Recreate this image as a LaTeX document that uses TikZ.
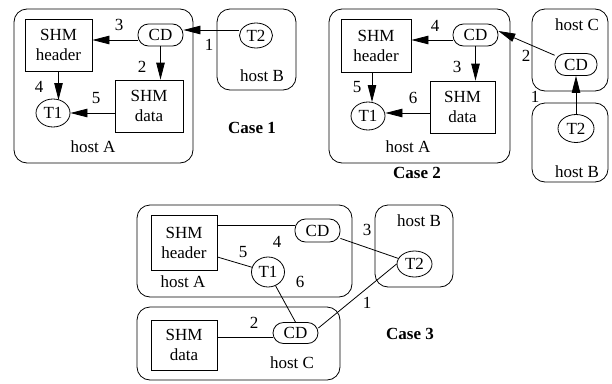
\documentclass[tikz,border=0pt]{standalone}
\usepackage{fontspec}
\setmainfont{Liberation Serif}
\usetikzlibrary{arrows.meta,shapes.geometric}
\begin{document}
\begin{tikzpicture}[x=1pt,y=-1pt,
  every node/.style={font=\fontsize{17}{20}\selectfont},
  host/.style={draw,line width=0.8pt,rounded corners=13pt,inner sep=0pt},
  shm/.style={draw,line width=0.8pt,inner sep=0pt,align=center},
  cdn/.style={draw,line width=0.8pt,rounded corners=10.5pt,inner sep=0pt,minimum width=45pt,minimum height=22pt},
  task/.style={draw,ellipse,line width=0.8pt,inner sep=0pt,minimum width=34pt,minimum height=28pt},
  arr/.style={line width=0.8pt,-{Triangle[length=17pt,width=8.5pt]}},
  lnk/.style={line width=0.8pt},
  lbl/.style={inner sep=0pt},
  casel/.style={inner sep=0pt,font=\fontsize{17}{20}\selectfont\bfseries}]
\useasboundingbox (0,0) rectangle (612,383);

% ---------------- Case 1 ----------------
\node[host,minimum width=179pt,minimum height=154pt] (hA1) at (103.5,86) {};
\node[host,minimum width=79pt,minimum height=81pt] (hB1) at (256.5,49.5) {};
\node[shm,minimum width=67pt,minimum height=52pt] (hd1) at (58.5,45) {SHM\\header};
\node[cdn] (cd1) at (160.5,35) {CD};
\node[task,minimum width=33pt,minimum height=25pt] (t21) at (256,35.5) {T2};
\node[shm,minimum width=68pt,minimum height=52pt] (dt1) at (149,106) {SHM\\data};
\node[task] (t11) at (53,113) {T1};
\node[lbl] (lA1) at (93,147) {host A};
\node[lbl] (lB1) at (262,76) {host B};
\node[casel] (c1) at (252,128) {Case 1};
\draw[arr] (t21.west |- 0,30) -- (cd1.east |- 0,30);
\draw[arr] (cd1.west |- 0,40) -- (hd1.east |- 0,40);
\draw[arr] (cd1.south) -- (cd1.south |- dt1.north);
\draw[arr] (hd1.south) -- (hd1.south |- 0,100);
\draw[arr] (dt1.west |- 0,113) -- (t11.east);
\node[lbl] (n11) at (209,45) {1};
\node[lbl] (n12) at (142,67) {2};
\node[lbl] (n13) at (119,25) {3};
\node[lbl] (n14) at (39,87) {4};
\node[lbl] (n15) at (96,98) {5};

% ---------------- Case 2 ----------------
\node[host,minimum width=181pt,minimum height=154pt] (hA2) at (419.5,86) {};
\node[host,minimum width=76pt,minimum height=82pt] (hC2) at (570,50) {};
\node[host,minimum width=76pt,minimum height=79pt] (hB2) at (570,142.5) {};
\node[shm,minimum width=70pt,minimum height=53pt] (hd2) at (376,45.5) {SHM\\header};
\node[cdn] (cd2) at (475.5,35) {CD};
\node[shm,minimum width=65pt,minimum height=52pt] (dt2) at (462.5,107) {SHM\\data};
\node[task] (t12) at (368,116) {T1};
\node[cdn,minimum width=42pt] (cdc2) at (576,64.5) {CD};
\node[task,minimum width=36pt] (t22) at (576,128.5) {T2};
\node[lbl] (lA2) at (408,147) {host A};
\node[lbl] (lC2) at (577,25) {host C};
\node[lbl] (lB2) at (577,172) {host B};
\node[casel] (c2) at (417,173) {Case 2};
\draw[arr] (t22.north) -- (cdc2.south);
\draw[arr] (cdc2) -- ([yshift=4pt]cd2.east);
\draw[arr] (cd2.west |- 0,40) -- (hd2.east |- 0,40);
\draw[arr] (cd2.south) -- (cd2.south |- dt2.north);
\draw[arr] (hd2.south -| 372,0) -- (372,102);
\draw[arr] (dt2.west |- 0,113) -- (t12.east |- 0,113);
\node[lbl] (n21) at (535,97) {1};
\node[lbl] (n22) at (526,56) {2};
\node[lbl] (n23) at (457,67) {3};
\node[lbl] (n24) at (435,26) {4};
\node[lbl] (n25) at (357,87) {5};
\node[lbl] (n26) at (413,98) {6};

% ---------------- Case 3 ----------------
\node[host,minimum width=215pt,minimum height=92pt] (hA3) at (244.5,251) {};
\node[host,minimum width=78pt,minimum height=82pt] (hB3) at (414,246) {};
\node[host,minimum width=203pt,minimum height=73pt] (hC3) at (238.5,343.5) {};
\node[shm,minimum width=66pt,minimum height=55pt] (hd3) at (184,242.5) {SHM\\header};
\node[cdn,minimum height=23pt] (cd3a) at (317.5,230.5) {CD};
\node[task,minimum width=33pt,minimum height=30pt] (t13) at (268,272) {T1};
\node[task,minimum width=35pt,minimum height=26pt] (t23) at (414.5,264) {T2};
\node[shm,minimum width=66pt,minimum height=50pt] (dt3) at (184,345) {SHM\\data};
\node[cdn,minimum height=21pt] (cd3c) at (295.5,333) {CD};
\node[lbl] (lA3) at (183,282) {host A};
\node[lbl] (lB3) at (419,221) {host B};
\node[lbl] (lC3) at (292,363) {host C};
\node[casel] (c3) at (410,334) {Case 3};
\draw[lnk] (hd3.east |- 0,225) -- (cd3a.west |- 0,225);
\draw[lnk] (hd3.east |- 0,257) -- (t13);
\draw[lnk] (t13) -- (cd3c.north);
\draw[lnk] (cd3a) -- (t23);
\draw[lnk] ([yshift=5pt]cd3c.east) -- (t23.west);
\draw[lnk] (dt3.east |- 0,337) -- (cd3c.west |- 0,337);
\node[lbl] (n31) at (367,303) {1};
\node[lbl] (n32) at (254,323) {2};
\node[lbl] (n33) at (367,230) {3};
\node[lbl] (n34) at (277,242) {4};
\node[lbl] (n35) at (243,252) {5};
\node[lbl] (n36) at (300,282) {6};
\end{tikzpicture}
\end{document}
